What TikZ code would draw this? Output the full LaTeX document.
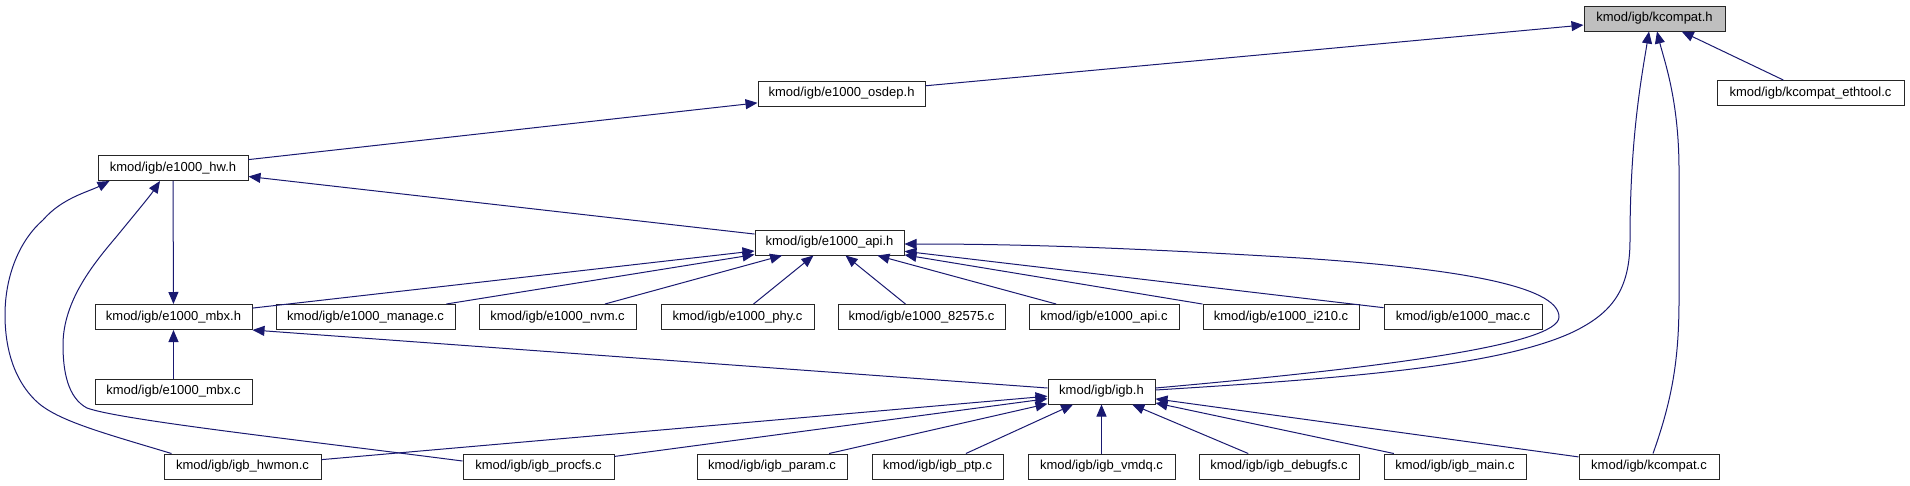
\documentclass[tikz,border=0pt]{standalone}
\usepackage{fontspec}
\setmainfont{Liberation Sans}
\usetikzlibrary{arrows.meta,calc}
\definecolor{edgeblue}{RGB}{25,25,112}
\definecolor{boxgray}{RGB}{191,191,191}
\begin{document}
\begin{tikzpicture}[x=1pt,y=-1pt,
  box/.style={draw=black!85, line width=1pt, fill=white, inner sep=0pt, minimum height=25pt, font=\fontsize{13}{15}\selectfont},
  edge/.style={draw=edgeblue, line width=1pt, -{Triangle[length=12pt,width=10pt]}}]
\useasboundingbox (0,0) rectangle (1910,485);
% row 1
\node[box, fill=boxgray, minimum width=141pt] (kch) at (1654.5,18.5) {kmod/igb/kcompat.h};
% row 2
\node[box, minimum width=187pt] (ethtool) at (1810.5,93) {kmod/igb/kcompat\_ethtool.c};
\node[box, minimum width=167pt] (osdep) at (841.5,93.5) {kmod/igb/e1000\_osdep.h};
% row 3
\node[box, minimum width=150pt] (hwh) at (173,168) {kmod/igb/e1000\_hw.h};
% row 4
\node[box, minimum width=149pt] (apih) at (829.5,242.5) {kmod/igb/e1000\_api.h};
% row 5
\node[box, minimum width=157pt] (mbxh) at (173.5,317) {kmod/igb/e1000\_mbx.h};
\node[box, minimum width=179pt] (manage) at (365.5,317) {kmod/igb/e1000\_manage.c};
\node[box, minimum width=157pt] (nvm) at (557.5,317) {kmod/igb/e1000\_nvm.c};
\node[box, minimum width=153pt] (phy) at (737.5,317) {kmod/igb/e1000\_phy.c};
\node[box, minimum width=167pt] (eEightyTwo) at (921.5,317) {kmod/igb/e1000\_82575.c};
\node[box, minimum width=150pt] (apic) at (1104,317) {kmod/igb/e1000\_api.c};
\node[box, minimum width=156pt] (iTwoTen) at (1281,317) {kmod/igb/e1000\_i210.c};
\node[box, minimum width=158pt] (mac) at (1463,317) {kmod/igb/e1000\_mac.c};
% row 6
\node[box, minimum width=157pt] (mbxc) at (173.5,391.5) {kmod/igb/e1000\_mbx.c};
\node[box, minimum width=107pt] (igbh) at (1101.5,391.5) {kmod/igb/igb.h};
% row 7
\node[box, minimum width=157pt] (hwmon) at (242.5,466.5) {kmod/igb/igb\_hwmon.c};
\node[box, minimum width=151pt] (procfs) at (538.5,466.5) {kmod/igb/igb\_procfs.c};
\node[box, minimum width=150pt] (param) at (772,466.5) {kmod/igb/igb\_param.c};
\node[box, minimum width=131pt] (ptp) at (937.5,466.5) {kmod/igb/igb\_ptp.c};
\node[box, minimum width=147pt] (vmdq) at (1101.5,466.5) {kmod/igb/igb\_vmdq.c};
\node[box, minimum width=160pt] (debugfs) at (1279,466.5) {kmod/igb/igb\_debugfs.c};
\node[box, minimum width=142pt] (igbmain) at (1455,466.5) {kmod/igb/igb\_main.c};
\node[box, minimum width=140pt] (kcc) at (1649,466.5) {kmod/igb/kcompat.c};

% edges into kcompat.h
\draw[edge] (osdep) -- (kch);
\draw[edge] (ethtool) -- (kch);
\draw[edge] ($(igbh.east)+(0,-1.5)$) .. controls (1350,378) and (1500,366) .. (1573,332)
  .. controls (1612,313) and (1630,290) .. (1630,240)
  .. controls (1630,140) and (1641,80) .. ($(kch.south)+(-5.5,0)$);
\draw[edge] ($(kcc.north)+(4,0)$) .. controls (1672,400) and (1679,360) .. (1679,300)
  -- (1679,170) .. controls (1679,100) and (1664,60) .. ($(kch.south)+(2.5,0)$);

% e1000_hw.h
\draw[edge] (hwh) -- (osdep);
\draw[edge] (apih) -- (hwh);
\draw[edge] (hwh) -- (mbxh);
\draw[edge] ($(hwmon.north west)+(8,0)$) .. controls (100,432) and (55,420) .. (35,400)
  .. controls (10,375) and (5,340) .. (5,315)
  .. controls (5,275) and (20,240) .. (43,220)
  .. controls (62,198) and (88,192) .. ($(hwh.south west)+(12,0)$);
\draw[edge] ($(procfs.west)+(0,-5.5)$) .. controls (300,440) and (120,420) .. (87,408)
  .. controls (68,398) and (63,372) .. (63,345)
  .. controls (63,300) and (95,262) .. (117,236)
  .. controls (135,214) and (150,196) .. ($(hwh.south)+(-13,0)$);

% e1000_api.h
\foreach \n in {mbxh, manage, nvm, phy, eEightyTwo, apic, iTwoTen, mac}
  \draw[edge] (\n) -- (apih);
\draw[edge] ($(igbh.east)+(0,-3.5)$) .. controls (1380,368) and (1559,345) .. (1559,317)
  .. controls (1559,285) and (1450,268) .. (1300,258)
  .. controls (1100,246) and (1000,244) .. ($(apih.east)+(0,1.5)$);

% e1000_mbx.h
\draw[edge] ($(igbh.west)+(0,-3.5)$) -- (mbxh.south east);
\draw[edge] (mbxc) -- (mbxh);

% igb.h
\foreach \n in {hwmon, procfs, param, ptp, vmdq, debugfs, igbmain, kcc}
  \draw[edge] (\n) -- (igbh);
\end{tikzpicture}
\end{document}
